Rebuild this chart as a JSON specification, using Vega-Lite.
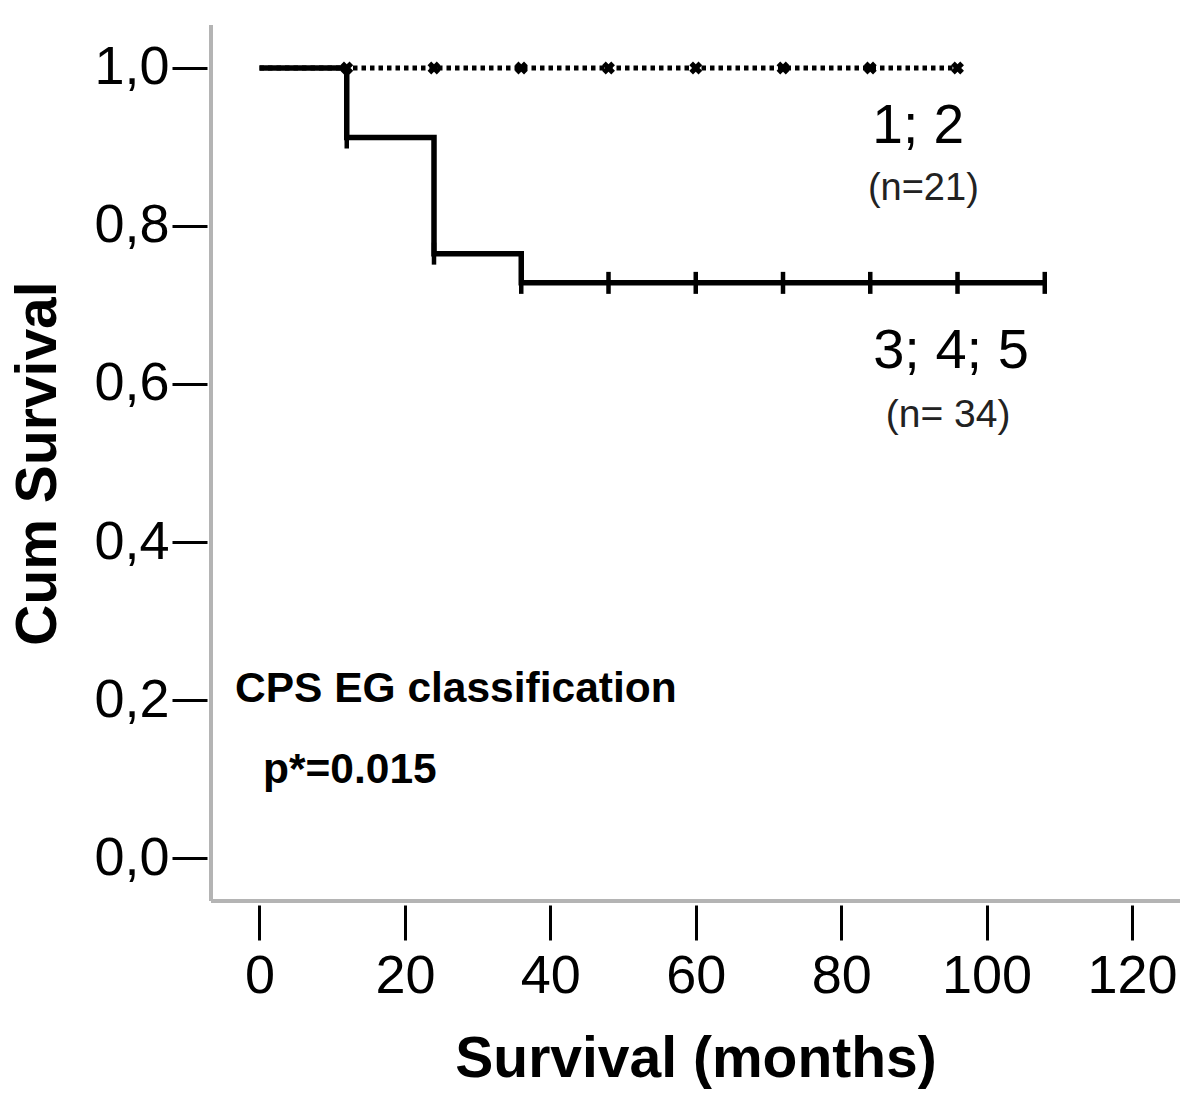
{
  "$schema": "https://vega.github.io/schema/vega-lite/v6.json",
  "width": 969,
  "height": 876,
  "autosize": {"type": "none"},
  "padding": {"left": 211, "top": 25, "right": 20, "bottom": 197},
  "background": "white",
  "config": {"view": {"stroke": null}, "font": "Liberation Sans"},
  "datasets": {
    "curves": [
      {"group": "1; 2", "month": 0, "surv": 1},
      {"group": "1; 2", "month": 96, "surv": 1},
      {"group": "3; 4; 5", "month": 0, "surv": 1},
      {"group": "3; 4; 5", "month": 12, "surv": 0.912},
      {"group": "3; 4; 5", "month": 24, "surv": 0.765},
      {"group": "3; 4; 5", "month": 36, "surv": 0.728},
      {"group": "3; 4; 5", "month": 108, "surv": 0.728}
    ],
    "censored": [
      {"group": "1; 2", "month": 12, "surv": 1},
      {"group": "1; 2", "month": 24, "surv": 1},
      {"group": "1; 2", "month": 36, "surv": 1},
      {"group": "1; 2", "month": 48, "surv": 1},
      {"group": "1; 2", "month": 60, "surv": 1},
      {"group": "1; 2", "month": 72, "surv": 1},
      {"group": "1; 2", "month": 84, "surv": 1},
      {"group": "1; 2", "month": 96, "surv": 1},
      {"group": "3; 4; 5", "month": 12, "surv": 0.912},
      {"group": "3; 4; 5", "month": 24, "surv": 0.765},
      {"group": "3; 4; 5", "month": 36, "surv": 0.728},
      {"group": "3; 4; 5", "month": 48, "surv": 0.728},
      {"group": "3; 4; 5", "month": 60, "surv": 0.728},
      {"group": "3; 4; 5", "month": 72, "surv": 0.728},
      {"group": "3; 4; 5", "month": 84, "surv": 0.728},
      {"group": "3; 4; 5", "month": 96, "surv": 0.728},
      {"group": "3; 4; 5", "month": 108, "surv": 0.728}
    ]
  },
  "layer": [
    {
      "data": {"name": "curves"},
      "transform": [{"filter": "datum.group === '1; 2'"}],
      "mark": {"type": "line", "interpolate": "step-after", "color": "black", "strokeWidth": 5, "strokeDash": [4.5, 4], "strokeCap": "butt"},
      "encoding": {
        "x": {"field": "month", "type": "quantitative",
          "scale": {"domain": [-6.67, 126.6], "nice": false, "zero": false},
          "axis": {"values": [0, 20, 40, 60, 80, 100, 120], "title": "Survival (months)", "domain": false, "grid": false,
            "offset": 4, "tickSize": 35, "tickWidth": 3, "tickColor": "black",
            "labelFontSize": 54, "labelColor": "black", "labelPadding": 9, "labelFlush": false,
            "titleFontSize": 57, "titleFontWeight": "bold", "titleColor": "black", "titlePadding": 28}},
        "y": {"field": "surv", "type": "quantitative",
          "scale": {"domain": [-0.0544, 1.0544], "nice": false, "zero": false},
          "axis": {"values": [0, 0.2, 0.4, 0.6, 0.8, 1.0], "title": "Cum Survival", "domain": false, "grid": false,
            "offset": 4, "tickSize": 35, "tickWidth": 3, "tickColor": "black",
            "labelExpr": "replace(format(datum.value, '.1f'), '.', ',')",
            "labelFontSize": 54, "labelColor": "black", "labelPadding": 3, "labelFlush": false,
            "titleFontSize": 57, "titleFontWeight": "bold", "titleColor": "black", "titlePadding": 26}}
      }
    },
    {
      "data": {"name": "curves"},
      "transform": [{"filter": "datum.group === '3; 4; 5'"}],
      "mark": {"type": "line", "interpolate": "step-after", "color": "black", "strokeWidth": 5.5},
      "encoding": {
        "x": {"field": "month", "type": "quantitative"},
        "y": {"field": "surv", "type": "quantitative"}
      }
    },
    {
      "data": {"name": "censored"},
      "transform": [{"filter": "datum.group === '3; 4; 5'"}],
      "mark": {"type": "tick", "orient": "vertical", "color": "black", "opacity": 1, "size": 22, "thickness": 4.5},
      "encoding": {
        "x": {"field": "month", "type": "quantitative"},
        "y": {"field": "surv", "type": "quantitative"}
      }
    },
    {
      "data": {"name": "censored"},
      "transform": [{"filter": "datum.group === '1; 2'"}],
      "mark": {"type": "point", "shape": "cross", "angle": 45, "filled": true, "color": "black", "size": 170, "opacity": 1},
      "encoding": {
        "x": {"field": "month", "type": "quantitative"},
        "y": {"field": "surv", "type": "quantitative"}
      }
    },
    {
      "data": {"values": [{}]},
      "mark": {"type": "rule", "color": "#b4b4b4", "strokeWidth": 4},
      "encoding": {
        "x": {"datum": -6.67, "type": "quantitative"},
        "y": {"datum": -0.0544, "type": "quantitative"},
        "y2": {"datum": 1.0544}
      }
    },
    {
      "data": {"values": [{}]},
      "mark": {"type": "rule", "color": "#b4b4b4", "strokeWidth": 4},
      "encoding": {
        "x": {"datum": -6.67, "type": "quantitative"},
        "x2": {"datum": 126.6},
        "y": {"datum": -0.0544, "type": "quantitative"}
      }
    },
    {
      "data": {"values": [{"label": "1; 2"}]},
      "mark": {"type": "text", "fontSize": 55, "color": "black", "align": "center", "baseline": "alphabetic"},
      "encoding": {
        "x": {"datum": 90.6, "type": "quantitative"},
        "y": {"datum": 0.905, "type": "quantitative"},
        "text": {"field": "label"}
      }
    },
    {
      "data": {"values": [{"label": "(n=21)"}]},
      "mark": {"type": "text", "fontSize": 38, "color": "#222222", "align": "center", "baseline": "alphabetic"},
      "encoding": {
        "x": {"datum": 91.3, "type": "quantitative"},
        "y": {"datum": 0.833, "type": "quantitative"},
        "text": {"field": "label"}
      }
    },
    {
      "data": {"values": [{"label": "3; 4; 5"}]},
      "mark": {"type": "text", "fontSize": 56, "color": "black", "align": "center", "baseline": "alphabetic"},
      "encoding": {
        "x": {"datum": 95.1, "type": "quantitative"},
        "y": {"datum": 0.62, "type": "quantitative"},
        "text": {"field": "label"}
      }
    },
    {
      "data": {"values": [{"label": "(n= 34)"}]},
      "mark": {"type": "text", "fontSize": 39, "color": "#222222", "align": "center", "baseline": "alphabetic"},
      "encoding": {
        "x": {"datum": 94.7, "type": "quantitative"},
        "y": {"datum": 0.546, "type": "quantitative"},
        "text": {"field": "label"}
      }
    },
    {
      "data": {"values": [{"label": "CPS EG classification"}]},
      "mark": {"type": "text", "fontSize": 42.5, "fontWeight": "bold", "color": "black", "align": "left", "baseline": "alphabetic"},
      "encoding": {
        "x": {"datum": -3.37, "type": "quantitative"},
        "y": {"datum": 0.197, "type": "quantitative"},
        "text": {"field": "label"}
      }
    },
    {
      "data": {"values": [{"label": "p*=0.015"}]},
      "mark": {"type": "text", "fontSize": 42.5, "fontWeight": "bold", "color": "black", "align": "left", "baseline": "alphabetic"},
      "encoding": {
        "x": {"datum": 0.48, "type": "quantitative"},
        "y": {"datum": 0.095, "type": "quantitative"},
        "text": {"field": "label"}
      }
    }
  ]
}
